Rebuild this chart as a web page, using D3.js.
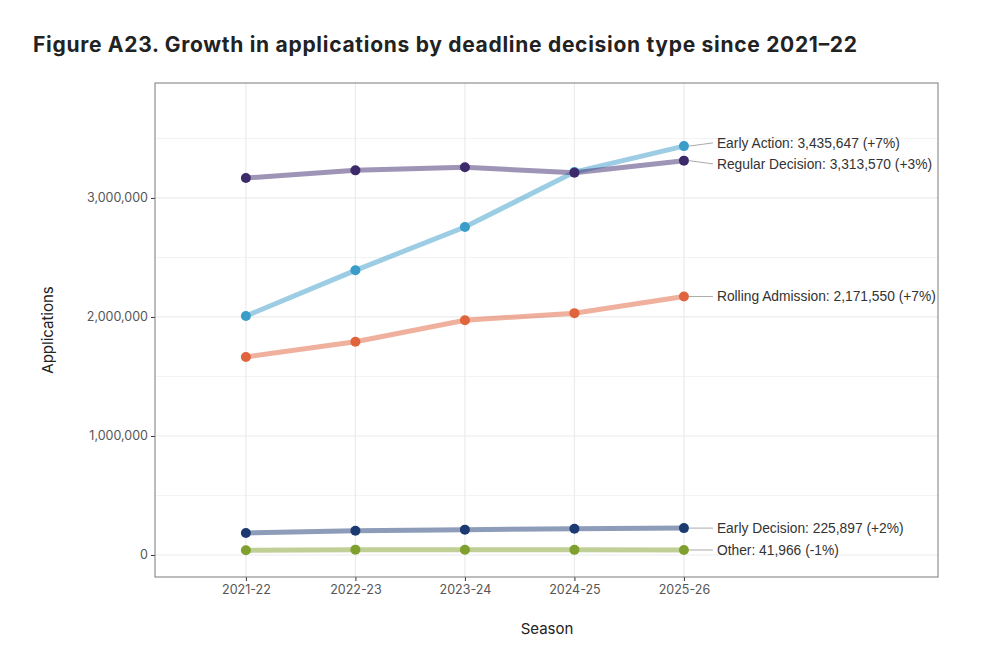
<!DOCTYPE html>
<html>
<head>
<meta charset="utf-8">
<script src="https://cdn.jsdelivr.net/npm/d3@7"></script>
<style>
  body { margin: 0; background: #fff; }
  svg { display: block; }
</style>
</head>
<body>
<svg id="chart" width="998" height="668"></svg>
<script>
// values
var seasons = ['2021-22', '2022-23', '2023-24', '2024-25', '2025-26'];
var seriesNames = ['Early Action', 'Regular Decision', 'Rolling Admission', 'Early Decision', 'Other'];
var earlyAction = [2008000, 2392000, 2756000, 3218000, 3435647];
var regularDecision = [3168000, 3232000, 3258000, 3212000, 3313570];
var rollingAdmission = [1664000, 1792000, 1972000, 2032000, 2171550];
var earlyDecision = [185000, 203000, 213000, 221000, 225897];
var other = [40000, 45000, 44000, 43000, 41966];
var growth = ['+7%', '+3%', '+7%', '+2%', '-1%'];
var pointColors = ['#3a9cc9', '#3d2a6b', '#e0643c', '#1c3a72', '#7fa02e'];
var yTicks = [0, 1000000, 2000000, 3000000];
var yMinor = [500000, 1500000, 2500000, 3500000];

var values = [earlyAction, regularDecision, rollingAdmission, earlyDecision, other];
var series = seriesNames.map(function (name, i) {
  return { name: name, values: values[i], color: pointColors[i], growth: growth[i] };
});

var svg = d3.select('#chart');
var panel = { left: 155, right: 938, top: 83, bottom: 577 };

var x = d3.scaleLinear().domain([0.17, 7.32]).range([panel.left, panel.right]);
var y = d3.scaleLinear().domain([-185000, 3966000]).range([panel.bottom, panel.top]);
var fmt = d3.format(',');

// title
svg.append('text')
  .attr('x', 33).attr('y', 52)
  .attr('font-family', 'Inter, Lato, sans-serif')
  .attr('font-weight', 700)
  .attr('font-size', 21)
  .attr('fill', '#222')
  .attr('textLength', 824)
  .attr('lengthAdjust', 'spacing')
  .text('Figure A23. Growth in applications by deadline decision type since 2021\u201322');

// grid
var grid = svg.append('g');
grid.selectAll('.minor').data(yMinor).enter().append('line')
  .attr('x1', panel.left).attr('x2', panel.right)
  .attr('y1', y).attr('y2', y)
  .attr('stroke', '#f3f3f3').attr('stroke-width', 1);
grid.selectAll('.major').data(yTicks).enter().append('line')
  .attr('x1', panel.left).attr('x2', panel.right)
  .attr('y1', y).attr('y2', y)
  .attr('stroke', '#ebebeb').attr('stroke-width', 1.2);
grid.selectAll('.vmajor').data(seasons).enter().append('line')
  .attr('x1', function (d, i) { return x(i + 1); })
  .attr('x2', function (d, i) { return x(i + 1); })
  .attr('y1', panel.top).attr('y2', panel.bottom)
  .attr('stroke', '#ebebeb').attr('stroke-width', 1.2);

// axes
var yAxis = d3.axisLeft(y).tickValues(yTicks).tickFormat(fmt).tickSize(4).tickPadding(3);
var gy = svg.append('g').attr('transform', 'translate(' + panel.left + ',0)').call(yAxis);
var xAxis = d3.axisBottom(x).tickValues(d3.range(1, seasons.length + 1))
  .tickFormat(function (d) { return seasons[d - 1]; }).tickSize(4).tickPadding(4);
var gx = svg.append('g').attr('transform', 'translate(0,' + panel.bottom + ')').call(xAxis);
[gx, gy].forEach(function (g) {
  g.select('.domain').remove();
  g.selectAll('.tick line').attr('stroke', '#333');
  g.selectAll('.tick text')
    .attr('fill', '#555')
    .attr('font-family', 'Inter, Lato, sans-serif')
    .attr('font-size', 12.5);
});

// panel border
svg.append('rect')
  .attr('x', panel.left).attr('y', panel.top)
  .attr('width', panel.right - panel.left).attr('height', panel.bottom - panel.top)
  .attr('fill', 'none').attr('stroke', '#7a7a7a').attr('stroke-width', 1);

// axis titles
svg.append('text')
  .attr('x', 547).attr('y', 634)
  .attr('text-anchor', 'middle')
  .attr('font-family', 'Inter, Lato, sans-serif')
  .attr('font-size', 15).attr('fill', '#222')
  .text('Season');
svg.append('text')
  .attr('transform', 'translate(53,330) rotate(-90)')
  .attr('text-anchor', 'middle')
  .attr('font-family', 'Inter, Lato, sans-serif')
  .attr('font-size', 15).attr('fill', '#222')
  .text('Applications');

// lines
var line = d3.line()
  .x(function (d, i) { return x(i + 1); })
  .y(function (d) { return y(d); });

svg.append('g').selectAll('path').data(series).enter().append('path')
  .attr('d', function (d) { return line(d.values); })
  .attr('fill', 'none')
  .attr('stroke', function (d) { return d.color; })
  .attr('stroke-opacity', 0.5)
  .attr('stroke-width', 5)
  .attr('stroke-linecap', 'round');

// points
var pts = svg.append('g');
series.forEach(function (s) {
  pts.selectAll(null).data(s.values).enter().append('circle')
    .attr('cx', function (d, i) { return x(i + 1); })
    .attr('cy', function (d) { return y(d); })
    .attr('r', 5)
    .attr('fill', s.color);
});

// end labels with a simple repel so they do not overlap
var last = seasons.length - 1;
var labels = series.map(function (s) {
  return { s: s, py: y(s.values[last]), ly: y(s.values[last]) };
}).sort(function (a, b) { return a.py - b.py; });
var gap = 21;
for (var iter = 0; iter < 50; iter++) {
  for (var k = 1; k < labels.length; k++) {
    var diff = labels[k].ly - labels[k - 1].ly;
    if (diff < gap) {
      var push = (gap - diff) / 2;
      labels[k].ly += push;
      labels[k - 1].ly -= push;
    }
  }
}
var lx = x(last + 1);
var lab = svg.append('g');
lab.selectAll('line').data(labels).enter().append('line')
  .attr('x1', lx + 5).attr('y1', function (d) { return d.py; })
  .attr('x2', lx + 29).attr('y2', function (d) { return d.ly; })
  .attr('stroke', '#aaa').attr('stroke-width', 1);
lab.selectAll('text').data(labels).enter().append('text')
  .attr('x', lx + 33)
  .attr('y', function (d) { return d.ly; })
  .attr('dy', '0.35em')
  .attr('font-family', '"Liberation Sans", Arial, sans-serif')
  .attr('font-size', 13.8)
  .attr('fill', '#333')
  .text(function (d) {
    return d.s.name + ': ' + fmt(d.s.values[last]) + ' (' + d.s.growth + ')';
  });
</script>
</body>
</html>
